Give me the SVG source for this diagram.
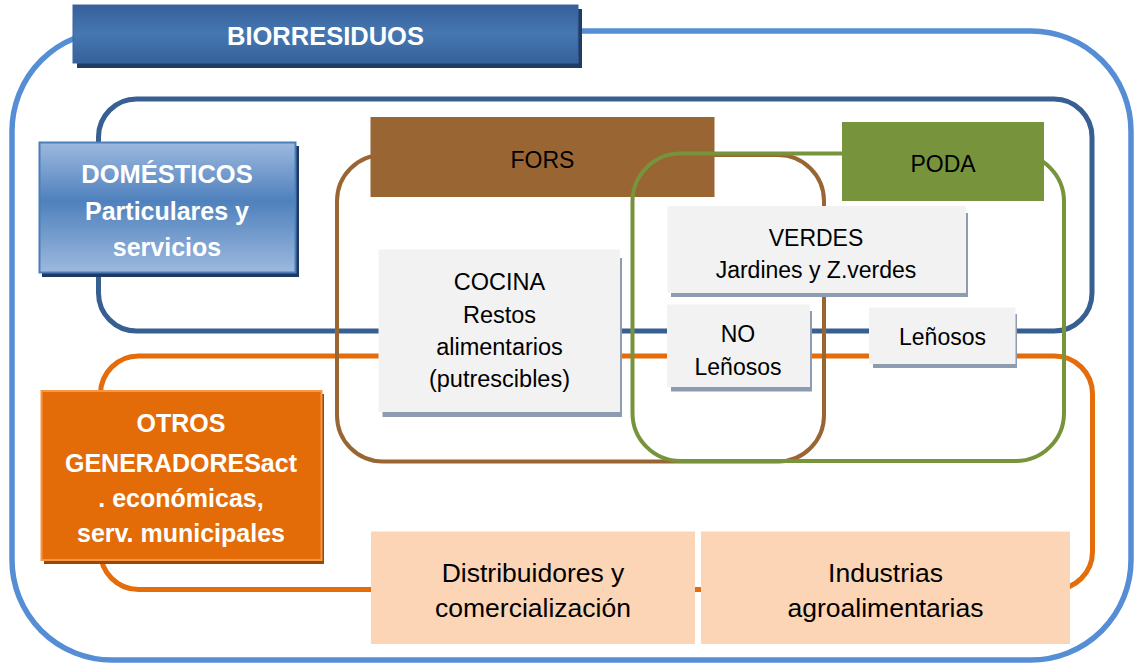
<svg xmlns="http://www.w3.org/2000/svg" width="1136" height="664" viewBox="0 0 1136 664">
  <style>
    .t { font-family: "Liberation Sans", Arial, sans-serif; text-anchor: middle; fill: #000000; }
    .w { font-family: "Liberation Sans", Arial, sans-serif; text-anchor: middle; fill: #FFFFFF; font-weight: bold; }
    .frame { fill: none; }
    .gray { fill: #F2F2F2; }
    .gshadow { fill: #8E9CB2; }
    .peach { fill: #FBD5B5; }
  </style>
  <defs>
    <linearGradient id="gBio" x1="0" y1="0" x2="0" y2="1">
      <stop offset="0" stop-color="#36609A"/>
      <stop offset="0.5" stop-color="#4677B1"/>
      <stop offset="1" stop-color="#36609A"/>
    </linearGradient>
    <linearGradient id="gDom" x1="0" y1="0" x2="0" y2="1">
      <stop offset="0" stop-color="#9DB9DE"/>
      <stop offset="0.45" stop-color="#4F81BD"/>
      <stop offset="1" stop-color="#9DB9DE"/>
    </linearGradient>
  </defs>

  <!-- outer frame -->
  <g id="connectors">
    <rect class="frame" x="12" y="31" width="1119" height="629" rx="100" ry="100" stroke="#558ED5" stroke-width="5.5"/>
    <rect class="frame" x="98.5" y="99" width="993.5" height="232" rx="38" ry="38" stroke="#385F91" stroke-width="5"/>
    <rect class="frame" x="100.5" y="356" width="992" height="233.5" rx="38" ry="38" stroke="#E46C0A" stroke-width="5"/>
    <rect class="frame" x="337" y="155" width="487" height="306.5" rx="46" ry="46" stroke="#996633" stroke-width="4"/>
  </g>

  <g id="biorresiduos">
    <rect x="77" y="9" width="505" height="59" fill="#203C62"/>
    <rect x="73" y="5" width="505" height="58" fill="url(#gBio)" stroke="#3B64A0" stroke-width="1"/>
    <text class="w" x="325.5" y="45" font-size="25.5">BIORRESIDUOS</text>
  </g>

  <g id="fors">
    <rect x="370.5" y="117" width="344" height="80" fill="#996633"/>
    <text class="t" x="542.5" y="168" font-size="23">FORS</text>
  </g>

  <g id="connectors-green">
    <rect class="frame" x="632.5" y="153.5" width="431.5" height="307.5" rx="48" ry="48" stroke="#77933C" stroke-width="4"/>
  </g>

  <g id="poda">
    <rect x="842" y="122" width="202" height="79" fill="#77933C"/>
    <text class="t" x="943" y="171.5" font-size="23">PODA</text>
  </g>

  <g id="domesticos">
    <rect x="42" y="146" width="257" height="131" fill="#1F3864"/>
    <rect x="39.5" y="142.5" width="256" height="130" fill="url(#gDom)" stroke="#4A7EBB" stroke-width="2"/>
    <text class="w" x="167" y="183" font-size="25.5">DOMÉSTICOS</text>
    <text class="w" x="167" y="220" font-size="25">Particulares y</text>
    <text class="w" x="167" y="256" font-size="25">servicios</text>
  </g>

  <g id="otros">
    <rect x="44" y="394" width="280" height="170" fill="#984807"/>
    <rect x="41.5" y="391" width="280" height="169" fill="#E36C09" stroke="#F79646" stroke-width="2"/>
    <text class="w" x="181" y="432" font-size="25">OTROS</text>
    <text class="w" x="181" y="471.5" font-size="25">GENERADORESact</text>
    <text class="w" x="181" y="506.5" font-size="25">. económicas,</text>
    <text class="w" x="181" y="542" font-size="25">serv. municipales</text>
  </g>

  <g id="cocina">
    <rect class="gshadow" x="382.5" y="258" width="239.5" height="159"/>
    <rect class="gray" x="378.5" y="249.5" width="241.5" height="162.5"/>
    <text class="t" x="499.5" y="290" font-size="23.5">COCINA</text>
    <text class="t" x="499.5" y="322.7" font-size="23.5">Restos</text>
    <text class="t" x="499.5" y="355" font-size="23.5">alimentarios</text>
    <text class="t" x="499.5" y="386.7" font-size="23.5">(putrescibles)</text>
  </g>

  <g id="verdes">
    <rect class="gshadow" x="671" y="213" width="297" height="84"/>
    <rect class="gray" x="667.5" y="206" width="298.5" height="87"/>
    <text class="t" x="816" y="245.7" font-size="23">VERDES</text>
    <text class="t" x="816" y="278" font-size="23">Jardines y Z.verdes</text>
  </g>

  <g id="no-lenosos">
    <rect class="gshadow" x="671" y="311" width="141" height="80.5"/>
    <rect class="gray" x="667" y="304.5" width="143" height="82.5"/>
    <text class="t" x="738" y="341.7" font-size="23">NO</text>
    <text class="t" x="738" y="375" font-size="23">Leñosos</text>
  </g>

  <g id="lenosos">
    <rect class="gshadow" x="873" y="314" width="144" height="54"/>
    <rect class="gray" x="869" y="307.5" width="146.5" height="56.5"/>
    <text class="t" x="942.5" y="345" font-size="23">Leñosos</text>
  </g>

  <g id="distribuidores">
    <rect class="peach" x="371" y="531.5" width="324" height="112.5"/>
    <text class="t" x="533" y="581.7" font-size="26.5">Distribuidores y</text>
    <text class="t" x="533" y="617.3" font-size="26.5">comercialización</text>
  </g>

  <g id="industrias">
    <rect class="peach" x="701" y="531.5" width="369" height="112.5"/>
    <text class="t" x="885.5" y="581.7" font-size="26.5">Industrias</text>
    <text class="t" x="885.5" y="617.3" font-size="26.5">agroalimentarias</text>
  </g>
</svg>
